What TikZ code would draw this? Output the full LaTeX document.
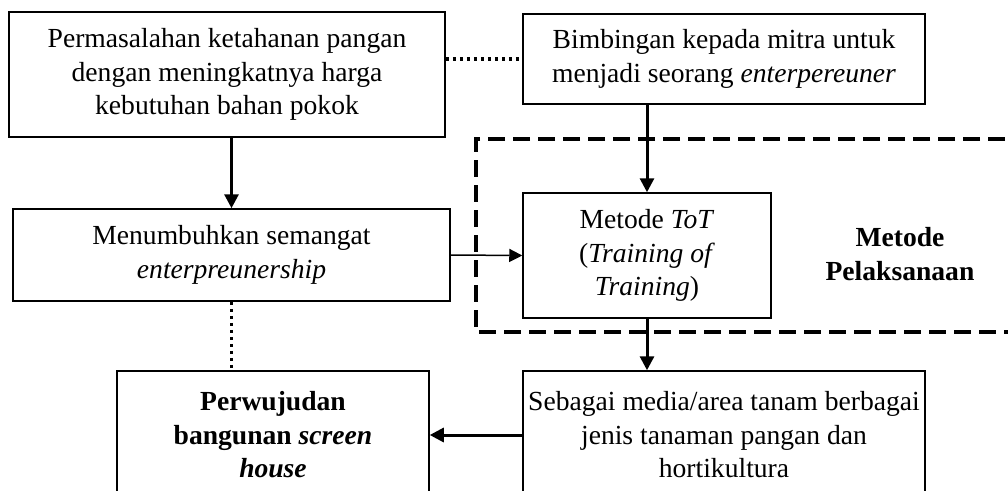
\documentclass[tikz,border=0pt]{standalone}
\usepackage{fontspec}
\setmainfont{Liberation Serif}
\usetikzlibrary{arrows.meta,calc}
\begin{document}
\begin{tikzpicture}[x=1pt,y=-1pt,
  box/.style={draw, line width=1.5pt, align=center, inner sep=0pt, font=\fontsize{27.6pt}{33.5pt}\selectfont},
  plainlabel/.style={align=center, inner sep=0pt, font=\fontsize{27.6pt}{33.5pt}\selectfont\bfseries},
  thickarrow/.style={line width=3pt, -{Triangle[width=14pt,length=14pt]}},
  thinarrow/.style={line width=1.5pt, -{Triangle[width=13pt,length=13pt]}},
  dotline/.style={line width=3.2pt, dash pattern=on 3pt off 4pt},
  regionline/.style={line width=3.2pt, dash pattern=on 17pt off 8pt}]
\useasboundingbox (0,0) rectangle (1008,490);
\clip (0,0) rectangle (1008,490);
\fill[white] (0,0) rectangle (1008,490);

\node[box, minimum width=436pt, minimum height=125pt] (A) at (227,74.5)
  {Permasalahan ketahanan pangan\\dengan meningkatnya harga\\kebutuhan bahan pokok};
\node[box, minimum width=402pt, minimum height=90pt] (B) at (724,59)
  {Bimbingan kepada mitra untuk\\menjadi seorang \textit{enterpereuner}};
\node[box, minimum width=437pt, minimum height=92pt] (C) at (231.5,255)
  {Menumbuhkan semangat\\\textit{enterpreunership}};
\node[box, minimum width=248pt, minimum height=125pt] (D) at (647,255.5)
  {Metode \textit{ToT}\\(\textit{Training of}\\\textit{Training})};
\node[box, minimum width=312pt, minimum height=128pt] (E) at (273,435)
  {\textbf{Perwujudan}\\\textbf{bangunan \textit{screen}}\\\textbf{\textit{house}}};
\node[box, minimum width=402pt, minimum height=128pt] (F) at (724,435)
  {Sebagai media/area tanam berbagai\\jenis tanaman pangan dan\\hortikultura};
\node[plainlabel] (L) at (900,254) {Metode\\Pelaksanaan};

\coordinate (r1) at (1030,139);
\coordinate (r2) at (476,139);
\coordinate (r3) at (476,332);
\coordinate (r4) at (1030,332);
\draw[regionline] (r1) -- (r2) -- (r3) -- (r4);

\draw[dotline] (A.east |- B.west) -- (B.west);
\draw[thickarrow] (A.south -| C.north) -- (C.north);
\draw[thickarrow] (B.south -| D.north) -- (D.north);
\draw[thinarrow] (C.east) -- (D.west);
\draw[thickarrow] (D.south) -- (D.south |- F.north);
\draw[thickarrow] (F.west) -- (E.east);
\draw[dotline] (C.south) -- (C.south |- E.north);
\end{tikzpicture}
\end{document}
